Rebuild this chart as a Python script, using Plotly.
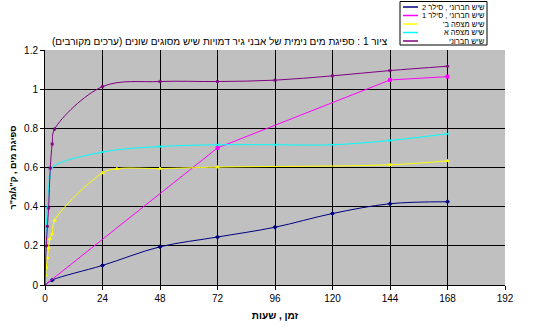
import plotly.graph_objects as go

FONT = "Arial, 'Liberation Sans', 'DejaVu Sans', sans-serif"
RLM = "\u200F"

title_text = "ציור 1 : ספיגת מים נימית של אבני גיר דמויות שיש מסוגים שונים (ערכים מקורבים)"
x_title = "זמן , שעות"
y_title = 'ספיגת מים , ק"ג/מ"ר'

x_ticks = [0, 24, 48, 72, 96, 120, 144, 168, 192]
y_ticks = [0, 0.2, 0.4, 0.6, 0.8, 1, 1.2]

names = ["שיש חברוני , סילר 2", "שיש חברוני , סילר 1", "שיש מצפה ב'", "שיש מצפה א", "שיש חברוני"]
colors = ["#000080", "#ff00ff", "#ffff00", "#00ffff", "#800080"]
symbols = ["diamond", "square", "triangle-up", "x-thin-open", "asterisk-open"]

# series data (hours, kg/m2)
s2_x = [0, 3, 24, 48, 72, 96, 120, 144, 168]
s2_y = [0, 0.025, 0.10, 0.195, 0.245, 0.295, 0.365, 0.415, 0.425]

s1_x = [0, 72, 144, 168]
s1_y = [0, 0.70, 1.047, 1.064]

mb_x = [0, 0.25, 0.5, 1, 1.5, 2, 3, 4, 24, 30, 48, 72, 144, 168]
mb_y = [0, 0.05, 0.09, 0.14, 0.19, 0.235, 0.26, 0.33, 0.572, 0.594, 0.595, 0.602, 0.614, 0.634]

ma_x = [0, 0.5, 1, 2, 3, 24, 48, 72, 96, 120, 144, 168]
ma_y = [0, 0.25, 0.40, 0.55, 0.60, 0.679, 0.707, 0.716, 0.716, 0.716, 0.738, 0.772]

h_x = [0, 0.5, 1, 1.5, 2.2, 3, 4, 24, 48, 72, 96, 120, 144, 168]
h_y = [0, 0.2, 0.3, 0.393, 0.597, 0.72, 0.796, 1.013, 1.039, 1.039, 1.046, 1.068, 1.095, 1.117]

series = [(s2_x, s2_y, "spline"), (s1_x, s1_y, "linear"), (mb_x, mb_y, "spline"),
          (ma_x, ma_y, "spline"), (h_x, h_y, "spline")]

fig = go.Figure()
for (xs, ys, shape), nm, col, sym in zip(series, names, colors, symbols):
    fig.add_trace(go.Scatter(
        x=xs, y=ys, name=nm, mode="lines+markers",
        line=dict(color=col, width=1, shape=shape, smoothing=1.0),
        marker=dict(color=col, size=3, symbol=sym, line=dict(color=col, width=1)),
        showlegend=False))

# custom legend (symbol left, text right-aligned)
L, R_, T, B = 45, 37, 50, 49
W, H = 542, 334
pw, ph = W - L - R_, H - T - B
def px(x):
    return (x - L) / pw
def py(y):
    return (H - B - y) / ph

box = (400, 1.5, 487, 45)
row_y = [7, 15.5, 24, 32.5, 41]
shapes = [dict(type="rect", xref="paper", yref="paper",
               x0=px(box[0]), x1=px(box[2]), y0=py(box[3]), y1=py(box[1]),
               line=dict(color="black", width=1), fillcolor="white", layer="above")]
annotations = []
leg_mx, leg_my = [], []
for nm, col, ry in zip(names, colors, row_y):
    shapes.append(dict(type="line", xref="paper", yref="paper",
                       x0=px(403), x1=px(418), y0=py(ry), y1=py(ry),
                       line=dict(color=col, width=1.5), layer="above"))
    annotations.append(dict(text=RLM + nm + RLM, xref="paper", yref="paper",
                            x=px(486), y=py(ry), xanchor="right", yanchor="middle",
                            showarrow=False, borderpad=0,
                            font=dict(family=FONT, size=7.5, color="black")))
    leg_mx.append(px(410.5))
    leg_my.append(py(ry))

fig.add_trace(go.Scatter(
    x=leg_mx, y=leg_my, xaxis="x2", yaxis="y2", mode="markers", cliponaxis=False,
    marker=dict(color=colors, size=3, symbol=symbols, line=dict(color=colors, width=1)),
    showlegend=False, hoverinfo="skip"))

annotations.append(dict(text=RLM + title_text + RLM, xref="paper", yref="paper",
                        x=px(220), y=py(41), xanchor="center", yanchor="middle",
                        showarrow=False, font=dict(family=FONT, size=10, color="black")))

fig.update_layout(
    width=W, height=H,
    margin=dict(l=L, r=R_, t=T, b=B, pad=0),
    paper_bgcolor="white", plot_bgcolor="#c0c0c0",
    font=dict(family=FONT, size=10, color="black"),
    shapes=shapes, annotations=annotations,
    xaxis=dict(range=[0, 192], tickvals=x_ticks, ticktext=[str(v) for v in x_ticks],
               showgrid=True, gridcolor="black", gridwidth=1,
               showline=True, linecolor="black", linewidth=1,
               ticks="outside", ticklen=4, tickcolor="black", zeroline=False,
               title=dict(text="<b>" + x_title + "</b>", font=dict(size=10), standoff=8)),
    yaxis=dict(range=[0, 1.2], tickvals=y_ticks, ticktext=["0", "0.2", "0.4", "0.6", "0.8", "1", "1.2"],
               showgrid=True, gridcolor="black", gridwidth=1,
               showline=True, linecolor="black", linewidth=1,
               ticks="outside", ticklen=4, tickcolor="black", zeroline=False,
               title=dict(text="<b>" + RLM + y_title + RLM + "</b>", font=dict(size=9), standoff=5)),
    xaxis2=dict(range=[0, 1], overlaying="x", visible=False, fixedrange=True),
    yaxis2=dict(range=[0, 1], overlaying="y", visible=False, fixedrange=True),
)

fig.write_html("out.html")
